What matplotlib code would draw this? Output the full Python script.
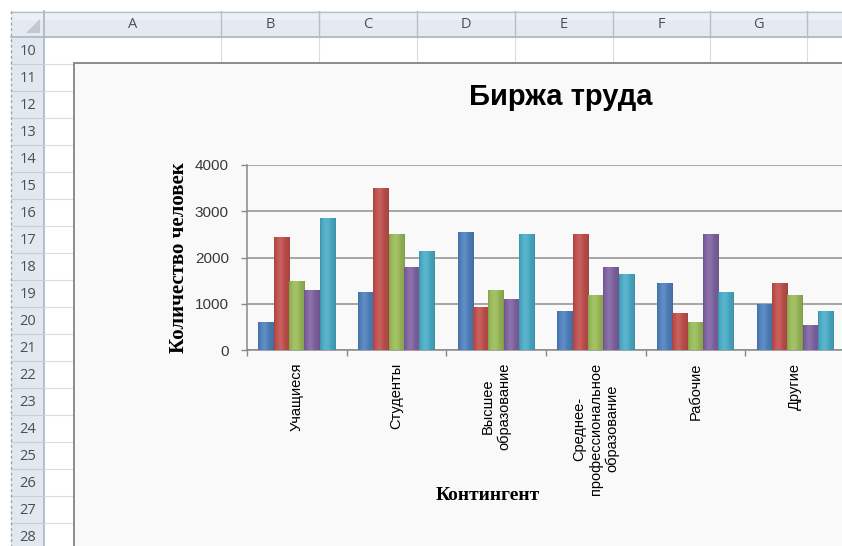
import matplotlib
matplotlib.use("Agg")
import matplotlib.pyplot as plt
import numpy as np
from matplotlib.colors import to_rgb
from matplotlib.patches import Rectangle, Polygon

W, H = 842, 546

categories = [
    "Учащиеся",
    "Студенты",
    "Высшее\nобразование",
    "Среднее-\nпрофессиональное\nобразование",
    "Рабочие",
    "Другие",
]
# one list per series, in category order
series_1 = [600, 1250, 2550, 850, 1450, 1000]
series_2 = [2450, 3500, 920, 2500, 800, 1450]
series_3 = [1500, 2500, 1300, 1200, 600, 1200]
series_4 = [1300, 1800, 1100, 1800, 2500, 550]
series_5 = [2850, 2150, 2500, 1650, 1250, 850]
series = [series_1, series_2, series_3, series_4, series_5]
colors = ["#4F81BD", "#C0504D", "#9BBB59", "#8064A2", "#4BACC6"]

y_ticks = [0, 1000, 2000, 3000, 4000]
col_letters = ["A", "B", "C", "D", "E", "F", "G"]
col_edges = [44, 221, 319, 417, 515, 613, 710, 807, 905]
row_numbers = list(range(10, 29))

fig = plt.figure(figsize=(W / 100, H / 100), dpi=100)
fig.patch.set_facecolor("white")

# sheet background drawn in pixel space
bg = fig.add_axes([0, 0, 1, 1], zorder=0)
bg.set_xlim(0, W)
bg.set_ylim(H, 0)
bg.axis("off")

row_top, row_h = 37, 27.0
grid_c = "#DADCDD"
for k in range(len(row_numbers) + 1):
    y = row_top + k * row_h
    bg.plot([44, W], [y, y], color=grid_c, lw=0.8, zorder=1)
for x in col_edges[1:]:
    bg.plot([x, x], [37, H], color=grid_c, lw=0.8, zorder=1)

# column header band
bg.add_patch(Rectangle((11, 11), W - 11, 26, facecolor="#E5EAF1", edgecolor="none", zorder=2))
bg.add_patch(Rectangle((11, 11), W - 11, 9, facecolor="#EDF0F5", edgecolor="none", zorder=2))
bg.plot([11, W], [11.5, 11.5], color="#B7C2CF", lw=1.0, zorder=3)
bg.plot([11, W], [37, 37], color="#A9B6C6", lw=1.2, zorder=3)
for x in col_edges[1:]:
    bg.plot([x, x], [11, 37], color="#B3BFCD", lw=1.0, zorder=3)
for i, letter in enumerate(col_letters):
    cx = (col_edges[i] + col_edges[i + 1]) / 2
    bg.text(cx, 25, letter, ha="center", va="center", fontsize=10.5,
            family="Open Sans", color="#4A4F57", zorder=4)

# row header column
bg.add_patch(Rectangle((11, 37), 33, H - 37, facecolor="#E2E8F0", edgecolor="none", zorder=2))
bg.plot([44, 44], [11, H], color="#A9B6C6", lw=1.2, zorder=3)
for k, num in enumerate(row_numbers):
    y = row_top + k * row_h
    bg.plot([11, 44], [y + row_h, y + row_h], color="#C6D0DC", lw=0.8, zorder=3)
    bg.text(28, y + row_h / 2 + 1, str(num), ha="center", va="center",
            fontsize=10.5, family="Open Sans", color="#4A4F57", zorder=4)
bg.add_patch(Polygon([[26, 33], [40, 33], [40, 19]], closed=True,
                     facecolor="#C3C8CE", edgecolor="none", zorder=4))
bg.plot([11, 11], [11, H], color="#9AA3AE", lw=1.0, ls=(0, (2, 2)), zorder=4)

# chart area
bg.add_patch(Rectangle((74, 63), 820, 520, facecolor="#F9F9F9",
                       edgecolor="#8C8C8C", lw=1.4, zorder=5))
bg.text(561, 97, "Биржа труда", ha="center", va="center", fontsize=21,
        fontweight="bold", family="Liberation Sans", color="black", zorder=6)

# plot area
x0, x1 = 247, 845
y0, y1 = 350, 165
ax = fig.add_axes([x0 / W, 1 - y0 / H, (x1 - x0) / W, (y0 - y1) / H], zorder=1)
ax.set_facecolor("none")

n = len(series)
bw = 1.0 / (n + 1.5)
xc = np.arange(len(categories)) + 0.5

# soft horizontal shading across each bar
t = np.linspace(0, 1, 64)
shade = 0.88 + 0.2 * np.exp(-((t - 0.4) / 0.3) ** 2)
shade[:2] *= 0.9
shade[-2:] *= 0.9

for j, (vals, c) in enumerate(zip(series, colors)):
    pos = xc + (j - (n - 1) / 2) * bw
    bars = ax.bar(pos, vals, width=bw, color=c, edgecolor="none", zorder=3)
    base = np.array(to_rgb(c))
    img = np.clip(base[None, :] * shade[:, None], 0, 1)
    light = shade > 1
    img[light] = np.clip(base + (1 - base) * (shade[light, None] - 1) * 1.2, 0, 1)
    for p in bars:
        im = ax.imshow(img[None, :, :], extent=[p.get_x(), p.get_x() + p.get_width(), 0, p.get_height()],
                       aspect="auto", zorder=4, interpolation="bilinear")
        im.set_clip_path(p)

ax.set_xlim(0, len(categories))
ax.set_ylim(0, 4000)
ax.set_yticks(y_ticks)
ax.set_yticklabels([str(v) for v in y_ticks], fontsize=11, family="Liberation Sans",
                   color="#3A3A3A")
ax.yaxis.grid(True, color="#8E8E8E", lw=1.1)
ax.set_axisbelow(True)

ax.set_xticks(np.arange(len(categories) + 1))
ax.set_xticklabels([])
ax.set_xticks(xc, minor=True)
ax.set_xticklabels(categories, minor=True, rotation=90, fontsize=10.5,
                   family="Liberation Sans", multialignment="center")
ax.tick_params(axis="x", which="minor", length=0, pad=9)
ax.tick_params(axis="x", which="major", length=4, color="#8A8A8A", width=1.0)
ax.tick_params(axis="y", length=4, color="#8A8A8A", width=1.0, pad=9)

for side in ("top", "right"):
    ax.spines[side].set_visible(False)
for side in ("left", "bottom"):
    ax.spines[side].set_color("#8A8A8A")
    ax.spines[side].set_linewidth(1.1)

ax.set_ylabel("Количество человек", fontsize=15, fontweight="bold",
              family="Liberation Serif")
ax.yaxis.set_label_coords(-0.097, 0.5)
ax.set_xlabel("Контингент", fontsize=14, fontweight="bold", family="Liberation Serif")
ax.xaxis.set_label_coords((488 - x0) / (x1 - x0), -(487 - y0) / (y0 - y1))

fig.savefig("out.png", dpi=100, facecolor="white")
